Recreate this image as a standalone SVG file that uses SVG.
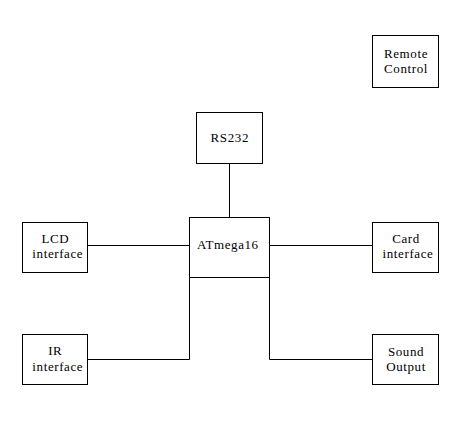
<svg xmlns="http://www.w3.org/2000/svg" width="464" height="432" viewBox="0 0 464 432">
<style>
.box{fill:#fff;stroke:#000;stroke-width:1}
line,polyline{stroke:#000;stroke-width:1;fill:none}
text{font-family:"Liberation Serif","Times New Roman",serif;font-size:13px;letter-spacing:0.6px;text-anchor:middle;fill:#000}
</style>
<rect width="464" height="432" fill="#fff"/>
<g id="connectors">
<line x1="229.5" y1="163" x2="229.5" y2="217"/>
<line x1="87" y1="245.5" x2="189" y2="245.5"/>
<line x1="269" y1="245.5" x2="372" y2="245.5"/>
<polyline points="87,359.5 189.5,359.5 189.5,277"/>
<polyline points="372,359.5 269.5,359.5 269.5,277"/>
</g>
<g id="remote"><rect class="box" x="372.5" y="35.5" width="66" height="52"/><text x="406" y="58">Remote</text><text x="406" y="73">Control</text></g>
<g id="rs232"><rect class="box" x="196.5" y="112.5" width="66" height="51"/><text x="229.8" y="142">RS232</text></g>
<g id="atmega"><rect class="box" x="189.5" y="217.5" width="80" height="60"/><text x="227.8" y="249">ATmega16</text></g>
<g id="lcd"><rect class="box" x="22.5" y="222.5" width="65" height="50"/><text x="55.3" y="243">LCD</text><text x="57.8" y="258">interface</text></g>
<g id="ir"><rect class="box" x="22.5" y="334.5" width="65" height="50"/><text x="55.3" y="355">IR</text><text x="57.8" y="371">interface</text></g>
<g id="card"><rect class="box" x="372.5" y="222.5" width="66" height="50"/><text x="406" y="243">Card</text><text x="408" y="258">interface</text></g>
<g id="sound"><rect class="box" x="372.5" y="334.5" width="66" height="50"/><text x="406" y="356">Sound</text><text x="406" y="371">Output</text></g>
</svg>
